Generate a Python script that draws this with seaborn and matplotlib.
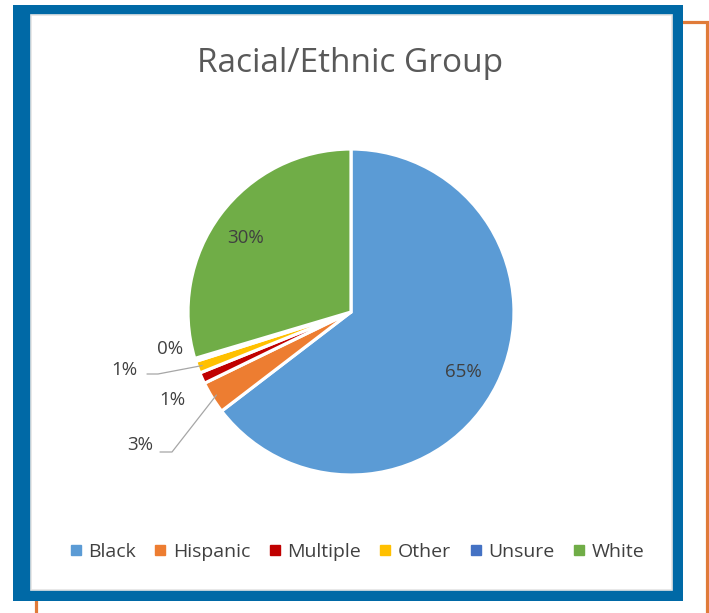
import numpy as np
import matplotlib
matplotlib.use("Agg")
import matplotlib.pyplot as plt
from matplotlib.patches import Rectangle
from matplotlib.lines import Line2D
import seaborn as sns

# ---- data ----
categories = ["Black", "Hispanic", "Multiple", "Other", "Unsure", "White"]
values = [64.6, 3.2, 1.1, 1.2, 0.3, 29.6]
colors = ["#5B9BD5", "#ED7D31", "#C00000", "#FFC000", "#4472C4", "#70AD47"]
title = "Racial/Ethnic Group"

# ---- style ----
sns.set_theme(style="white")
plt.rcParams["font.family"] = ["Open Sans", "DejaVu Sans"]
TXT = "#404040"

W, H = 709, 613
fig = plt.figure(figsize=(W / 100, H / 100), dpi=100)
fig.patch.set_facecolor("white")

# frames (pixel coords -> figure fraction)
def fr(x, y_top, w, h):
    return (x / W, (H - y_top - h) / H, w / W, h / H)

x0, y0, w0, h0 = fr(35.5, 21.5, 671, 620)
fig.patches.append(Rectangle((x0, y0), w0, h0, transform=fig.transFigure,
                             fill=False, edgecolor="#E07B39", linewidth=2.3, zorder=0))
x1, y1, w1, h1 = fr(13, 5, 670, 596)
fig.patches.append(Rectangle((x1, y1), w1, h1, transform=fig.transFigure,
                             facecolor="#0069A6", edgecolor="none", zorder=1))
x2, y2, w2, h2 = fr(31, 15, 641, 575)
fig.patches.append(Rectangle((x2, y2), w2, h2, transform=fig.transFigure,
                             facecolor="white", edgecolor="#E4E4E4", linewidth=1.2, zorder=2))

# pie axes: center (351,312) px, radius 163 px
cx, cy, R, half = 351, 312, 163, 250
ax = fig.add_axes([(cx - half) / W, (H - cy - half) / H, 2 * half / W, 2 * half / H])
ax.set_zorder(3)

wedges, _ = ax.pie(values, colors=colors, startangle=90, counterclock=False,
                   wedgeprops=dict(edgecolor="white", linewidth=2.3))
ax.set_xlim(-half / R, half / R)
ax.set_ylim(-half / R, half / R)
ax.set_aspect("equal")
ax.axis("off")

labels = [f"{round(v):.0f}%" for v in values]
pct_font = dict(fontsize=13.5, color=TXT, ha="center", va="center")

# label placements (style), in data units relative to pie center
def px(x, y):
    return ((x - cx) / R, (cy - y) / R)

label_pos = {
    "Black": px(463, 372),
    "Hispanic": px(140, 445),
    "Multiple": px(172, 400),
    "Other": px(124, 370),
    "Unsure": px(170, 349),
    "White": px(246, 238),
}
leaders = {
    "Hispanic": [px(160, 452), px(172, 452)],
    "Other": [px(147, 374), px(158, 374)],
}

for w, cat, lab in zip(wedges, categories, labels):
    tx, ty = label_pos[cat]
    ax.text(tx, ty, lab, **pct_font)
    if cat in leaders:
        mid = np.deg2rad((w.theta1 + w.theta2) / 2)
        anchor = (0.97 * np.cos(mid), 0.97 * np.sin(mid))
        pts = leaders[cat] + [anchor]
        ax.plot([p[0] for p in pts], [p[1] for p in pts], color="#A6A6A6", linewidth=0.9)

fig.text(350 / W, 1 - 63 / H, title, ha="center", va="center", fontsize=24, color="#595959", zorder=4)

handles = [Line2D([0], [0], marker="s", linestyle="none", markersize=6.5,
                  markerfacecolor=c, markeredgecolor=c) for c in colors]
leg = fig.legend(handles, categories, loc="center", bbox_to_anchor=(357 / W, 1 - 552 / H),
                 ncol=6, frameon=False, fontsize=14, handlelength=0.6, handletextpad=0.35,
                 columnspacing=0.95, labelcolor=TXT)
leg.set_zorder(5)

fig.savefig("out.png", dpi=100, facecolor="white")
